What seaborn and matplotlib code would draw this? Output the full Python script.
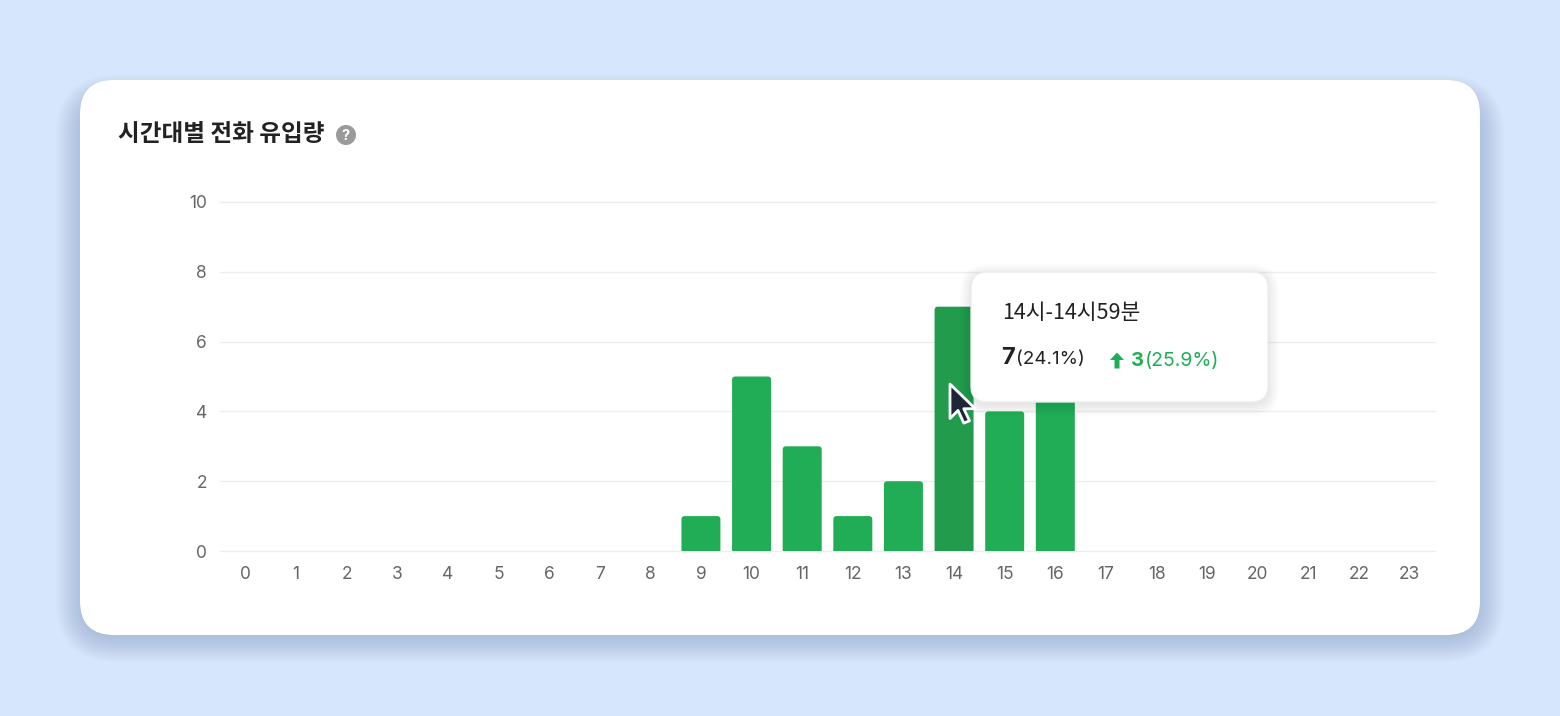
import matplotlib
matplotlib.use("Agg")
import matplotlib.pyplot as plt
import seaborn as sns
from matplotlib.patches import FancyBboxPatch, Polygon, Circle

# ---- data ----
hours = [str(h) for h in range(24)]
calls = [0, 0, 0, 0, 0, 0, 0, 0, 0, 1, 5, 3, 1, 2, 7, 4, 6, 0, 0, 0, 0, 0, 0, 0]
yticks = [0, 2, 4, 6, 8, 10]
title = "시간대별 전화 유입량"
hover_hour = "14"
tip_title = "14시-14시59분"
tip_value = "7"
tip_share = "(24.1%)"
tip_delta = "3"
tip_delta_pct = "(25.9%)"

BAR = "#21AD56"
BAR_HOVER = "#229B4C"

sns.set_theme(style="white")
FONT = ["Inter", "Noto Sans CJK KR", "DejaVu Sans"]
plt.rcParams["font.family"] = FONT
KR = ["Noto Sans CJK KR", "DejaVu Sans"]

W, H = 1560, 716
fig = plt.figure(figsize=(W / 100, H / 100), dpi=100)
fig.patch.set_facecolor("#D6E6FC")

# background overlay (pixel coords)
bg = fig.add_axes([0, 0, 1, 1], zorder=0)
bg.set_xlim(0, W); bg.set_ylim(H, 0); bg.axis("off")

# card shadow (mostly below the card)
for i in range(16):
    grow = i * 1.8
    bg.add_patch(FancyBboxPatch((80 - grow + 3, 80 - grow + 22), 1400 + 2 * grow - 6, 555 + 2 * grow - 22,
                                boxstyle=f"round,pad=0,rounding_size={34 + grow}",
                                fc="#5E78A0", ec="none", alpha=0.022))
bg.add_patch(FancyBboxPatch((80, 80), 1400, 555, boxstyle="round,pad=0,rounding_size=34",
                            fc="white", ec="none"))
bg.text(118, 134, title, fontsize=17, fontweight="bold", color="#222222",
        va="center", ha="left", family=KR)
bg.add_patch(Circle((346, 135), 10, fc="#9A9A9A", ec="none"))
bg.text(346, 135.5, "?", fontsize=10.5, fontweight="bold", color="white", ha="center", va="center")

# chart axes
ax = fig.add_axes([220 / W, 1 - 551 / H, 1215 / W, 349 / H], zorder=1)
ax.patch.set_alpha(0)
palette = {h: (BAR_HOVER if h == hover_hour else BAR) for h in hours}
sns.barplot(x=hours, y=calls, hue=hours, palette=palette, legend=False,
            width=0.77, saturation=1, ax=ax, zorder=3)

# round bar tops
for p in list(ax.patches):
    x0, w, h = p.get_x(), p.get_width(), p.get_height()
    fc = p.get_facecolor()
    if h > 0:
        rb = FancyBboxPatch((x0, -0.3), w, h + 0.3,
                            boxstyle="round,pad=0,rounding_size=0.065",
                            mutation_aspect=1.45, fc=fc, ec="none", zorder=3)
        ax.add_patch(rb)
    p.set_visible(False)

ax.set_xlim(-0.5, 23.5)
ax.set_ylim(0, 10)
ax.set_yticks(yticks)
ax.grid(axis="y", color="#EEEEEE", lw=1, zorder=0)
ax.grid(axis="x", visible=False)
for gl in ax.get_ygridlines():
    gl.set_clip_on(False)
for s in ax.spines.values():
    s.set_visible(False)
ax.tick_params(axis="both", length=0, colors="#666666", labelsize=12.5)
ax.tick_params(axis="x", pad=10.5)
ax.tick_params(axis="y", pad=9.5)
ax.set_xlabel(""); ax.set_ylabel("")

# top overlay: tooltip + cursor
ov = fig.add_axes([0, 0, 1, 1], zorder=2)
ov.set_xlim(0, W); ov.set_ylim(H, 0); ov.axis("off"); ov.patch.set_alpha(0)
for i in range(8):
    g = i * 1.5
    ov.add_patch(FancyBboxPatch((971 - g, 272 - g + 3), 297 + 2 * g, 130 + 2 * g,
                                boxstyle=f"round,pad=0,rounding_size={16 + g}",
                                fc="#000000", ec="none", alpha=0.010))
ov.add_patch(FancyBboxPatch((971, 272), 297, 130, boxstyle="round,pad=0,rounding_size=16",
                            fc="white", ec="#EBEBEB", lw=1))
ov.text(1002, 313, tip_title, fontsize=15.5, color="#222222", ha="left", va="center", family=KR)
ov.text(1001, 358, tip_value, fontsize=17, fontweight="bold", color="#222222",
        ha="left", va="center")
ov.text(1016, 359, tip_share, fontsize=13.5, color="#222222", ha="left", va="center")
# up arrow
axx, axy = 1117, 361
ov.add_patch(Polygon([(axx - 7, axy - 1), (axx, axy - 8.5), (axx + 7, axy - 1),
                      (axx + 2.5, axy - 1), (axx + 2.5, axy + 7.5), (axx - 2.5, axy + 7.5),
                      (axx - 2.5, axy - 1)], closed=True, fc=BAR, ec="none"))
ov.text(1131, 361, tip_delta, fontsize=14.5, fontweight="bold", color=BAR, ha="left", va="center")
ov.text(1145, 361, tip_delta_pct, fontsize=14, color=BAR, ha="left", va="center")

# cursor
cx, cy, s = 950, 384, 1.15
pts = [(0, 0), (0, 30), (7, 23), (12, 34), (17, 32), (12, 21.5), (22, 21.5)]
ov.add_patch(Polygon([(cx + px * s, cy + py * s) for px, py in pts], closed=True,
                     fc="#1F2636", ec="white", lw=2, joinstyle="round"))

fig.savefig("out.png", dpi=100, facecolor=fig.get_facecolor())
